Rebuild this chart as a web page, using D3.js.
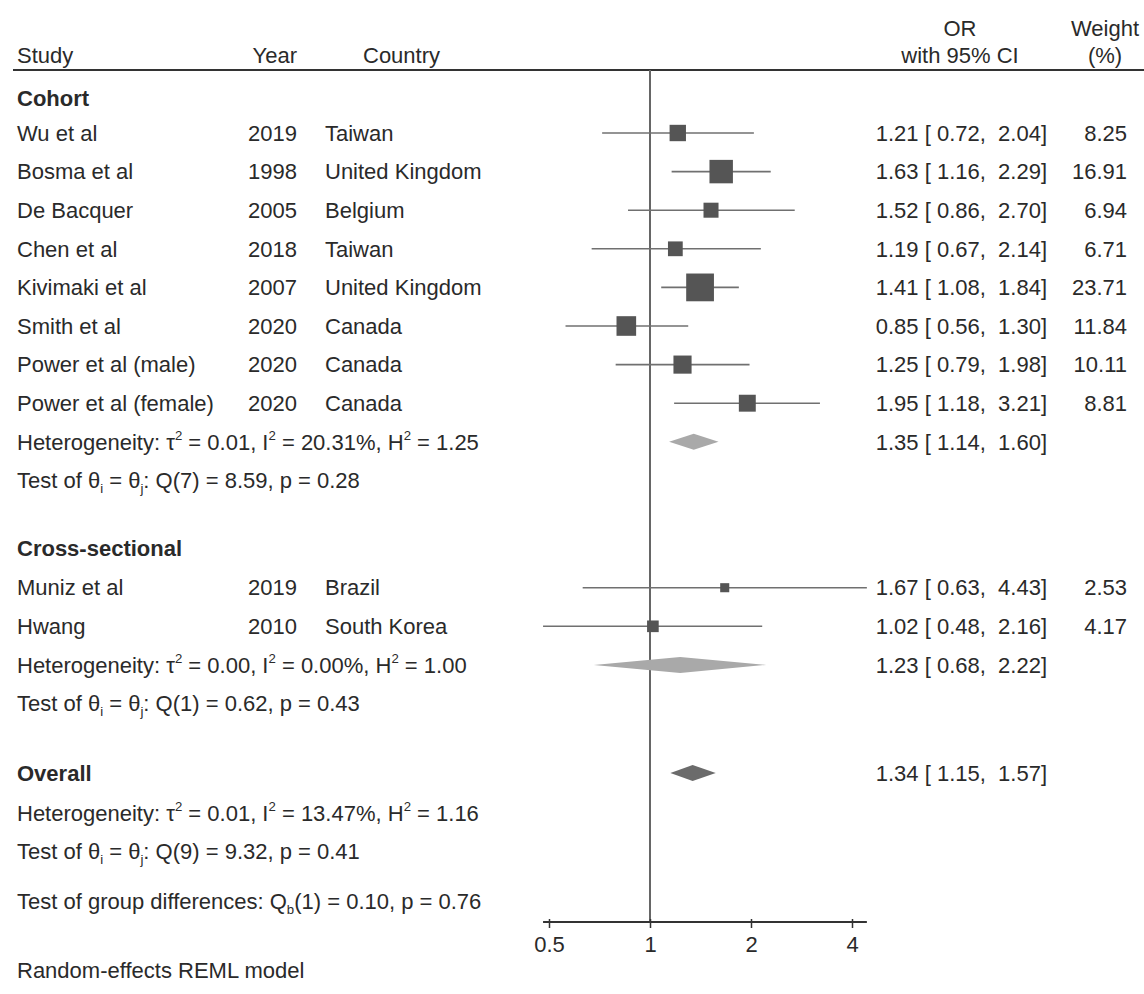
<!DOCTYPE html>
<html>
<head>
<meta charset="utf-8">
<script src="https://cdn.jsdelivr.net/npm/d3@7"></script>
<style>
  html, body { margin: 0; padding: 0; background: #fff; }
  svg text { font-family: "Liberation Sans", Arial, Helvetica, sans-serif; fill: #2a2a2a; }
</style>
</head>
<body>
<svg id="chart" width="1144" height="994"></svg>
<script>
// Individual studies
const studyNames = ["Wu et al", "Bosma et al", "De Bacquer", "Chen et al", "Kivimaki et al",
  "Smith et al", "Power et al (male)", "Power et al (female)", "Muniz et al", "Hwang"];
const studyYears = [2019, 1998, 2005, 2018, 2007, 2020, 2020, 2020, 2019, 2010];
const studyCountries = ["Taiwan", "United Kingdom", "Belgium", "Taiwan", "United Kingdom",
  "Canada", "Canada", "Canada", "Brazil", "South Korea"];
const studyGroup = [0, 0, 0, 0, 0, 0, 0, 0, 1, 1];
const studyOR = [1.21, 1.63, 1.52, 1.19, 1.41, 0.85, 1.25, 1.95, 1.67, 1.02];
const studyLow = [0.72, 1.16, 0.86, 0.67, 1.08, 0.56, 0.79, 1.18, 0.63, 0.48];
const studyHigh = [2.04, 2.29, 2.70, 2.14, 1.84, 1.30, 1.98, 3.21, 4.43, 2.16];
const studyWeight = [8.25, 16.91, 6.94, 6.71, 23.71, 11.84, 10.11, 8.81, 2.53, 4.17];

// Subgroup pooled estimates and heterogeneity
const groupNames = ["Cohort", "Cross-sectional"];
const groupOR = [1.35, 1.23];
const groupLow = [1.14, 0.68];
const groupHigh = [1.60, 2.22];
const groupTau2 = ["0.01", "0.00"];
const groupI2 = ["20.31", "0.00"];
const groupH2 = ["1.25", "1.00"];
const groupDf = [7, 1];
const groupQ = ["8.59", "0.62"];
const groupP = ["0.28", "0.43"];

// Overall pooled estimate
const overallOR = 1.34, overallLow = 1.15, overallHigh = 1.57;
const overallTau2 = "0.01", overallI2 = "13.47", overallH2 = "1.16";
const overallDf = 9, overallQ = "9.32", overallP = "0.41";
const diffDf = 1, diffQ = "0.10", diffP = "0.76";

const tickValues = [0.5, 1, 2, 4];

// ---------------------------------------------------------------
const svg = d3.select("#chart");
const FS = 22;
const fmt = d3.format(".2f");
const pad5 = v => { const s = fmt(v); return s.length < 5 ? " " + s : s; };

const x = d3.scaleLog().base(2).domain([0.5, 4]).range([549, 852]);
const xMin = d3.min(studyLow), xMax = d3.max(studyHigh);

// row layout (row index -> y)
const rowY = d3.scaleLinear().domain([1, 2]).range([133, 171.6]);
const rows = [];
let r = 0.1;
groupNames.forEach((g, gi) => {
  rows.push({ type: "group", gi, r });
  r += gi === 0 ? 0.9 : 1.03;
  studyNames.forEach((n, i) => {
    if (studyGroup[i] === gi) { rows.push({ type: "study", i, r }); r += 1; }
  });
  rows.push({ type: "het", gi, r }); r += 1;
  rows.push({ type: "test", gi, r }); r += 1.75;
});
rows.push({ type: "overall", r: r + 0.05 }); r += 1.1;
rows.push({ type: "ohet", r }); r += 0.99;
rows.push({ type: "otest", r }); r += 1.29;
rows.push({ type: "diff", r });

const yHeader1 = 28, yHeader2 = 55, yRule = 70, yAxis = 922;

function txt(xp, yp, s, anchor, bold) {
  return svg.append("text")
    .attr("x", xp).attr("y", yp).attr("dy", "0.35em")
    .attr("font-size", FS)
    .attr("text-anchor", anchor || "start")
    .attr("font-weight", bold ? "bold" : null)
    .attr("xml:space", "preserve")
    .style("white-space", "pre")
    .text(s);
}

// header
txt(17, yHeader2, "Study");
txt(297, yHeader2, "Year", "end");
txt(363, yHeader2, "Country");
txt(960, yHeader1, "OR", "middle");
txt(960, yHeader2, "with 95% CI", "middle");
txt(1105, yHeader1, "Weight", "middle");
txt(1105, yHeader2, "(%)", "middle");
svg.append("line").attr("x1", 13).attr("x2", 1144).attr("y1", yRule).attr("y2", yRule)
  .attr("stroke", "#333").attr("stroke-width", 2);

// reference line at OR = 1
svg.append("line").attr("x1", x(1)).attr("x2", x(1)).attr("y1", yRule).attr("y2", yAxis)
  .attr("stroke", "#666").attr("stroke-width", 2);

function hetText(yp, tau2, i2, h2) {
  const t = txt(17, yp, "");
  t.append("tspan").text("Heterogeneity: \u03C4");
  t.append("tspan").attr("font-size", FS * 0.6).attr("dy", "-0.75em").text("2");
  t.append("tspan").attr("dy", "0.45em").text(` = ${tau2}, I`);
  t.append("tspan").attr("font-size", FS * 0.6).attr("dy", "-0.75em").text("2");
  t.append("tspan").attr("dy", "0.45em").text(` = ${i2}%, H`);
  t.append("tspan").attr("font-size", FS * 0.6).attr("dy", "-0.75em").text("2");
  t.append("tspan").attr("dy", "0.45em").text(` = ${h2}`);
}
function testText(yp, df, q, p) {
  const t = txt(17, yp, "");
  t.append("tspan").text("Test of \u03B8");
  t.append("tspan").attr("font-size", FS * 0.6).attr("dy", "0.35em").text("i");
  t.append("tspan").attr("dy", "-0.21em").text(" = \u03B8");
  t.append("tspan").attr("font-size", FS * 0.6).attr("dy", "0.35em").text("j");
  t.append("tspan").attr("dy", "-0.21em").text(`: Q(${df}) = ${q}, p = ${p}`);
}
function diamond(yp, est, lo, hi, color) {
  const h = 8;
  svg.append("path")
    .attr("d", `M${x(lo)},${yp} L${x(est)},${yp - h} L${x(hi)},${yp} L${x(est)},${yp + h} Z`)
    .attr("fill", color);
}
function ciLabel(yp, est, lo, hi) {
  txt(1047, yp, `${fmt(est)} [${pad5(lo)}, ${pad5(hi)}]`, "end");
}

rows.forEach(row => {
  const yp = rowY(row.r);
  if (row.type === "group") {
    txt(17, yp, groupNames[row.gi], "start", true);
  } else if (row.type === "study") {
    const i = row.i;
    txt(17, yp, studyNames[i]);
    txt(297, yp, String(studyYears[i]), "end");
    txt(325, yp, studyCountries[i]);
    svg.append("line").attr("x1", x(studyLow[i])).attr("x2", x(studyHigh[i]))
      .attr("y1", yp).attr("y2", yp).attr("stroke", "#707070").attr("stroke-width", 1.6);
    const s = 5.7 * Math.sqrt(studyWeight[i]);
    svg.append("rect").attr("x", x(studyOR[i]) - s / 2).attr("y", yp - s / 2)
      .attr("width", s).attr("height", s).attr("fill", "#555");
    ciLabel(yp, studyOR[i], studyLow[i], studyHigh[i]);
    txt(1127, yp, fmt(studyWeight[i]), "end");
  } else if (row.type === "het") {
    const gi = row.gi;
    hetText(yp, groupTau2[gi], groupI2[gi], groupH2[gi]);
    diamond(yp, groupOR[gi], groupLow[gi], groupHigh[gi], "#a9a9a9");
    ciLabel(yp, groupOR[gi], groupLow[gi], groupHigh[gi]);
  } else if (row.type === "test") {
    testText(yp, groupDf[row.gi], groupQ[row.gi], groupP[row.gi]);
  } else if (row.type === "overall") {
    txt(17, yp, "Overall", "start", true);
    diamond(yp, overallOR, overallLow, overallHigh, "#6b6b6b");
    ciLabel(yp, overallOR, overallLow, overallHigh);
  } else if (row.type === "ohet") {
    hetText(yp, overallTau2, overallI2, overallH2);
  } else if (row.type === "otest") {
    testText(yp, overallDf, overallQ, overallP);
  } else if (row.type === "diff") {
    const t = txt(17, yp, "");
    t.append("tspan").text("Test of group differences: Q");
    t.append("tspan").attr("font-size", FS * 0.6).attr("dy", "0.35em").text("b");
    t.append("tspan").attr("dy", "-0.21em").text(`(${diffDf}) = ${diffQ}, p = ${diffP}`);
  }
});

// x axis
const axisG = svg.append("g").attr("transform", `translate(0,${yAxis})`)
  .call(d3.axisBottom(x).tickValues(tickValues).tickFormat(d3.format("")).tickSizeInner(6).tickSizeOuter(0).tickPadding(8));
axisG.select(".domain").remove();
axisG.append("line").attr("x1", x(xMin)).attr("x2", x(xMax)).attr("y1", 0).attr("y2", 0)
  .attr("stroke", "#333").attr("stroke-width", 2);
axisG.selectAll(".tick line").attr("stroke", "#333").attr("stroke-width", 1.5).attr("y1", -3);
axisG.selectAll(".tick text").attr("font-size", FS).attr("fill", "#2a2a2a")
  .style("font-family", "'Liberation Sans', Arial, sans-serif");

txt(17, 970, "Random-effects REML model");
</script>
</body>
</html>
